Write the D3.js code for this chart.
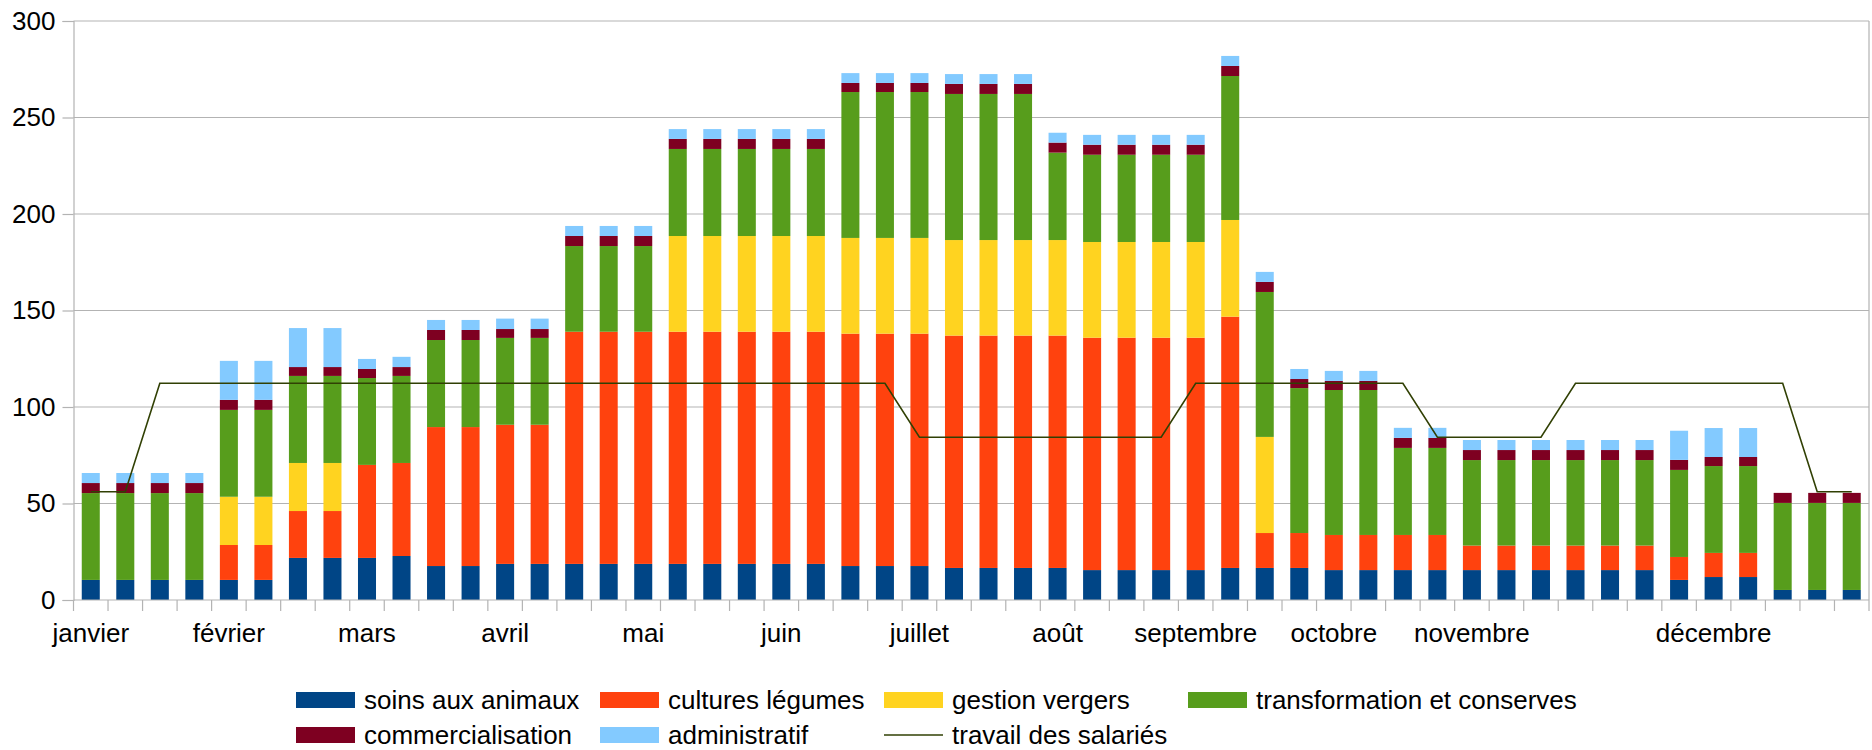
<!DOCTYPE html>
<html>
<head>
<meta charset="utf-8">
<script src="https://cdn.jsdelivr.net/npm/d3@7"></script>
<style>
  html, body { margin: 0; padding: 0; background: #ffffff; }
  svg text { font-family: "Liberation Sans", Arial, sans-serif; fill: #000; }
</style>
</head>
<body>
<svg id="chart" width="1872" height="750"></svg>
<script>
// ---- data (52 weeks) ----
const weeks = d3.range(52); // category index of each week
const monthLabels = ["janvier","","","","février","","","","mars","","","","avril","","","","mai","","","","juin","","","","juillet","","","","août","","","","septembre","","","","octobre","","","","novembre","","","","","","","décembre","","","",""];
const yTicks = [0, 50, 100, 150, 200, 250, 300];

const soins = [10.4,10.4,10.4,10.4, 10.4,10.4, 21.8,21.8, 21.8, 22.8, 17.6,17.6, 18.7,18.7, 18.7,18.7,18.7, 18.7,18.7,18.7,18.7,18.7, 17.6,17.6,17.6, 16.6,16.6,16.6, 16.6, 15.5,15.5,15.5,15.5, 16.6, 16.6, 16.6, 15.5,15.5, 15.5,15.5, 15.5,15.5,15.5,15.5,15.5,15.5, 10.4, 11.9,11.9, 5.2,5.2,5.2];
const cultures = [0,0,0,0, 18.1,18.1, 24.3,24.3, 48.2, 48.2, 72,72, 72.1,72.1, 120.3,120.3,120.3, 120.3,120.3,120.3,120.3,120.3, 120.4,120.4,120.4, 120.4,120.4,120.4, 120.4, 120.4,120.4,120.4,120.4, 130.2, 18.1, 18.1, 18.2,18.2, 18.2,18.2, 12.7,12.7,12.7,12.7,12.7,12.7, 11.9, 12.5,12.5, 0,0,0];
const vergers = [0,0,0,0, 25,25, 24.9,24.9, 0, 0, 0,0, 0,0, 0,0,0, 49.6,49.6,49.6,49.6,49.6, 49.6,49.6,49.6, 49.5,49.5,49.5, 49.5, 49.6,49.6,49.6,49.6, 50.1, 49.8, 0, 0,0, 0,0, 0,0,0,0,0,0, 0, 0,0, 0,0,0];
const transformation = [45,45,45,45, 45,45, 45.1,45.1, 45, 45.1, 45.1,45.1, 45,45, 44.4,44.4,44.4, 45.1,45.1,45.1,45.1,45.1, 75.6,75.6,75.6, 75.7,75.7,75.7, 45.3, 45.2,45.2,45.2,45.2, 74.6, 75.1, 75.1, 75.1,75.1, 45.1,45.1, 44.3,44.3,44.3,44.3,44.3,44.3, 45.1, 45,45, 45.1,45.1,45.1];
const commercialisation = [5.2,5.2,5.2,5.2, 5.2,5.2, 4.6,4.6, 4.7, 4.6, 5.2,5.2, 4.6,4.6, 5.2,5.2,5.2, 5.2,5.2,5.2,5.2,5.2, 4.7,4.7,4.7, 5.2,5.2,5.2, 5.2, 5.2,5.2,5.2,5.2, 5.2, 5.2, 4.7, 4.7,4.7, 5.2,5.2, 5.2,5.2,5.2,5.2,5.2,5.2, 5.2, 4.7,4.7, 5.2,5.2,5.2];
const administratif = [5.2,5.2,5.2,5.2, 20.2,20.2, 20.2,20.2, 5.2, 5.3, 5.2,5.2, 5.4,5.4, 5.2,5.2,5.2, 5.1,5.1,5.1,5.1,5.1, 5.1,5.1,5.1, 5.1,5.1,5.1, 5.1, 5.1,5.1,5.1,5.1, 5.2, 5.2, 5.2, 5.2,5.2, 5.2,5.2, 5.2,5.2,5.2,5.2,5.2,5.2, 15.1, 15,15, 0,0,0];
const salaries = [56.1,56.1, 112.3,112.3,112.3,112.3,112.3,112.3,112.3,112.3,112.3,112.3,112.3,112.3,112.3,112.3,112.3,112.3,112.3,112.3,112.3,112.3,112.3,112.3, 84.3,84.3,84.3,84.3,84.3,84.3,84.3,84.3, 112.3,112.3,112.3,112.3,112.3,112.3,112.3, 84.3,84.3,84.3,84.3, 112.3,112.3,112.3,112.3,112.3,112.3,112.3, 56.1,56.1];

const seriesNames = ["soins aux animaux","cultures légumes","gestion vergers","transformation et conserves","commercialisation","administratif"];
const seriesValues = [soins, cultures, vergers, transformation, commercialisation, administratif];
const seriesColors = ["#004586","#ff420e","#ffd320","#579d1c","#7e0021","#83caff"];
const lineName = "travail des salariés";
const lineColor = "#314004";

// ---- layout ----
const svg = d3.select("#chart");
const L = 73.5, R = 1869, T = 21, B = 600;
const gridColor = "#b3b3b3";
const fontSize = 26;

const x = d3.scaleBand().domain(weeks).range([L, R]).paddingInner(0).paddingOuter(0);
const y = d3.scaleLinear().domain([0, 300]).range([B, T]);
const barW = x.bandwidth() * 0.522;

// table for stack
const table = weeks.map(i => {
  const row = { i };
  seriesNames.forEach((n, k) => row[n] = seriesValues[k][i]);
  return row;
});
const stacked = d3.stack().keys(seriesNames)(table);

// gridlines
svg.append("g").selectAll("line").data(yTicks.filter(t => t > 0)).join("line")
  .attr("x1", L).attr("x2", R)
  .attr("y1", d => y(d)).attr("y2", d => y(d))
  .attr("stroke", gridColor).attr("stroke-width", 1.2);

// right border
svg.append("line").attr("x1", R).attr("x2", R).attr("y1", T).attr("y2", B)
  .attr("stroke", gridColor).attr("stroke-width", 1.2);

// bars
svg.append("g").selectAll("g").data(stacked).join("g")
  .attr("fill", (d, k) => seriesColors[k])
  .selectAll("rect").data(d => d).join("rect")
  .attr("x", d => x(d.data.i) + (x.bandwidth() - barW) / 2)
  .attr("width", barW)
  .attr("y", d => y(d[1]))
  .attr("height", d => Math.max(0, y(d[0]) - y(d[1])));

// y axis
const yAxis = d3.axisLeft(y).tickValues(yTicks).tickSize(11).tickPadding(7).tickFormat(d3.format("d"));
const gy = svg.append("g").attr("transform", `translate(${L},0)`).call(yAxis);
gy.select(".domain").attr("stroke", gridColor).attr("stroke-width", 1.2);
gy.selectAll(".tick line").attr("stroke", gridColor).attr("stroke-width", 1.2);
gy.selectAll(".tick text").attr("font-size", fontSize).attr("font-family", "Liberation Sans, Arial, sans-serif").attr("fill", "#000");

// x axis: ticks at category boundaries
const bounds = d3.range(53);
svg.append("g").selectAll("line").data(bounds).join("line")
  .attr("x1", d => L + d * x.step()).attr("x2", d => L + d * x.step())
  .attr("y1", B).attr("y2", B + 11)
  .attr("stroke", gridColor).attr("stroke-width", 1.2);
svg.append("line").attr("x1", L).attr("x2", R).attr("y1", B).attr("y2", B)
  .attr("stroke", gridColor).attr("stroke-width", 1.2);
svg.append("g").selectAll("text").data(weeks.filter(i => monthLabels[i] !== "")).join("text")
  .attr("x", i => x(i) + x.bandwidth() / 2)
  .attr("y", 642)
  .attr("text-anchor", "middle")
  .attr("font-size", fontSize)
  .text(i => monthLabels[i]);

// line series
const line = d3.line().x((d, i) => x(i) + x.bandwidth() / 2).y(d => y(d));
svg.append("path").datum(salaries).attr("d", line)
  .attr("fill", "none").attr("stroke", lineColor).attr("stroke-width", 1.6);

// legend
const legendItems = seriesNames.map((n, k) => ({ name: n, color: seriesColors[k], type: "rect" }))
  .concat([{ name: lineName, color: lineColor, type: "line" }]);
const colX = [296, 600, 884, 1188];
const rowY = [700, 735];
const lg = svg.append("g");
legendItems.forEach((it, k) => {
  let col, row;
  if (k < 4) { col = k; row = 0; } else { col = k - 4; row = 1; }
  if (k === 6) col = 2;
  const gx = colX[col], gyy = rowY[row];
  if (it.type === "rect") {
    lg.append("rect").attr("x", gx).attr("y", gyy - 8).attr("width", 59).attr("height", 16).attr("fill", it.color);
  } else {
    lg.append("line").attr("x1", gx).attr("x2", gx + 59).attr("y1", gyy).attr("y2", gyy)
      .attr("stroke", it.color).attr("stroke-width", 1.6);
  }
  lg.append("text").attr("x", gx + 68).attr("y", gyy + 9).attr("font-size", fontSize).text(it.name);
});
</script>
</body>
</html>
